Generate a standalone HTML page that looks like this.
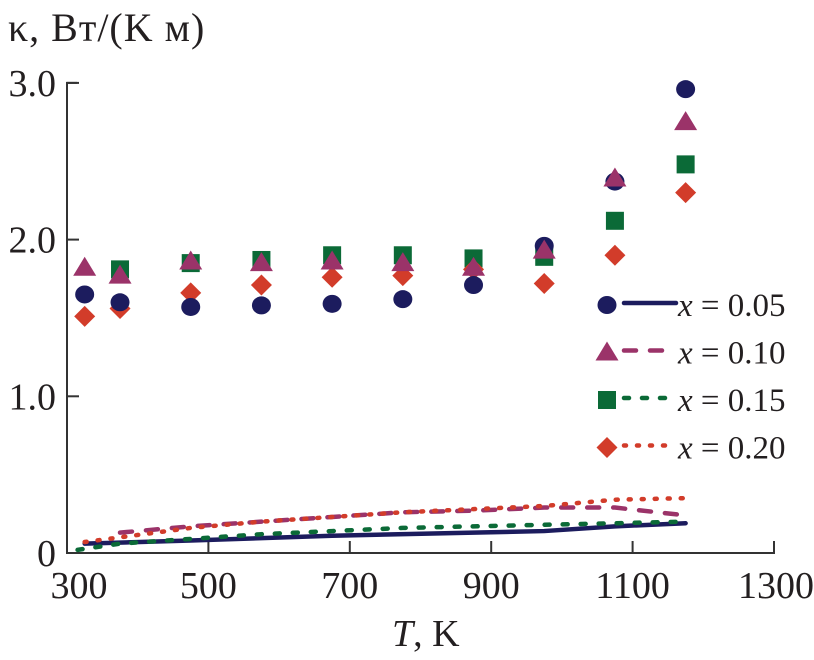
<!DOCTYPE html>
<html><head><meta charset="utf-8"><style>
html,body{margin:0;padding:0;background:#fff;}
svg{display:block;font-family:"Liberation Serif",serif;}
</style></head><body>
<svg id="chart" width="814" height="660" viewBox="0 0 814 660">
<text x="8" y="41" font-size="40" letter-spacing="1" fill="#231f20">κ, Вт/(K м)</text>
<text x="392" y="646" font-size="38" fill="#231f20"><tspan font-style="italic">T</tspan>, K</text>
<g id="axes"></g><g id="lines"></g><g id="marks"></g><g id="legend"></g>
</svg>
<script>
const xTicks=[300,500,700,900,1100,1300];
const yTicks=[0,1,2,3];
const yTickLabels=["0","1.0","2.0","3.0"];
const pointT=[325,375,475,575,675,775,875,975,1075,1175];
const circleVals=[1.65,1.60,1.57,1.58,1.59,1.62,1.71,1.96,2.37,2.96];
const triangleVals=[1.82,1.77,1.86,1.85,1.86,1.85,1.82,1.93,2.39,2.75];
const squareT=[375,475,575,675,775,875,975,1075,1175];
const squareVals=[1.81,1.85,1.87,1.90,1.90,1.88,1.89,2.12,2.48];
const diamondVals=[1.51,1.56,1.66,1.71,1.76,1.77,1.81,1.72,1.90,2.30];
const line05T=[325,475,675,875,975,1075,1175];
const line05V=[0.06,0.08,0.11,0.13,0.14,0.17,0.19];
const line10T=[375,475,575,675,775,875,975,1075,1175];
const line10V=[0.13,0.17,0.20,0.23,0.26,0.27,0.29,0.29,0.24];
const line15T=[315,375,475,575,675,775,875,975,1075,1175];
const line15V=[0.02,0.06,0.09,0.12,0.14,0.16,0.17,0.18,0.19,0.20];
const line20T=[325,375,475,575,675,775,875,975,1075,1175];
const line20V=[0.07,0.10,0.16,0.20,0.23,0.26,0.28,0.30,0.34,0.35];
const legendLabels=["x = 0.05","x = 0.10","x = 0.15","x = 0.20"];

const NS="http://www.w3.org/2000/svg";
const X=t=>67+(t-300)*(707/1000);
const Y=v=>553-v*156.7;
const C={navy:"#1c1c5e",pur:"#9b3369",grn:"#0b6a37",red:"#d23c2a",ax:"#333"};
function mk(tag,at,parent){const e=document.createElementNS(NS,tag);for(const k in at)e.setAttribute(k,at[k]);parent.appendChild(e);return e;}
const axes=document.getElementById('axes');
let e=mk('path',{d:`M${X(1300)},${Y(0)-10}V${Y(0)}H${X(300)}V${Y(3)}h10`,fill:'none',stroke:C.ax,'stroke-width':2},axes);

xTicks.forEach(t=>{
 let l=mk('line',{x1:X(t),x2:X(t),y1:Y(0),y2:Y(0)-12,stroke:C.ax,'stroke-width':2},axes);
 
 let tx=mk('text',{x:X(t)+(t==300?12:(t==1300?2:0)),y:598,'font-size':38,'text-anchor':'middle',fill:'#231f20'},axes);tx.textContent=t;
 
});
yTicks.forEach((v,i)=>{
 let l=mk('line',{x1:X(300),x2:X(300)+12,y1:Y(v),y2:Y(v),stroke:C.ax,'stroke-width':2},axes);
 
 let tx=mk('text',{x:56,y:Y(v)+13,'font-size':38,'text-anchor':'end',fill:'#231f20'},axes);tx.textContent=yTickLabels[i];
 
});
const lines=document.getElementById('lines');
function line(T,V,col,dash,name){
 let p=mk('polyline',{points:T.map((t,i)=>X(t)+','+Y(V[i])).join(' '),fill:'none',stroke:col,'stroke-width':4.5,'stroke-linecap':'round','stroke-dasharray':dash},lines);
 
}
line(line05T,line05V,C.navy,'none','line-x005');
line(line10T,line10V,C.pur,'12 14','line-x010');
line(line15T,line15V,C.grn,'5 13','line-x015');
line(line20T,line20V,C.red,'2 11','line-x020');
const marks=document.getElementById('marks');
function marker(type,cx,cy,parent){
 let el;
 if(type=='c')el=mk('ellipse',{cx,cy,rx:9.5,ry:9,fill:C.navy},parent);
 if(type=='t')el=mk('polygon',{points:`${cx},${cy-11} ${cx+11.5},${cy+8} ${cx-11.5},${cy+8}`,fill:C.pur},parent);
 if(type=='s')el=mk('rect',{x:cx-9,y:cy-9,width:18,height:18,fill:C.grn},parent);
 if(type=='d')el=mk('polygon',{points:`${cx},${cy-10.5} ${cx+10.5},${cy} ${cx},${cy+10.5} ${cx-10.5},${cy}`,fill:C.red},parent);
 return el;
}
squareT.forEach((t,i)=>{let m=marker('s',X(t),Y(squareVals[i]),marks);});
pointT.forEach((t,i)=>{let m=marker('d',X(t),Y(diamondVals[i]),marks);});
pointT.forEach((t,i)=>{let m=marker('c',X(t),Y(circleVals[i]),marks);});
pointT.forEach((t,i)=>{let m=marker('t',X(t),Y(triangleVals[i]),marks);});
const leg=document.getElementById('legend');
const lt=['c','t','s','d'],lc=[C.navy,C.pur,C.grn,C.red],ld=['none','12 14','5 13','2 11'];
legendLabels.forEach((s,i)=>{
 const y=305+i*47.5;
 const g=mk('g',{},leg);
 
 marker(lt[i],607,y,g);
 mk('line',{x1:624,x2:676,y1:y-2,y2:y-2,stroke:lc[i],'stroke-width':4.5,'stroke-linecap':'round','stroke-dasharray':ld[i]},g);
 const tx=mk('text',{x:678,y:y+11,'font-size':33,fill:'#231f20'},g);
 tx.innerHTML='<tspan font-style="italic">x</tspan>'+s.slice(1);
});
</script>
</body></html>
